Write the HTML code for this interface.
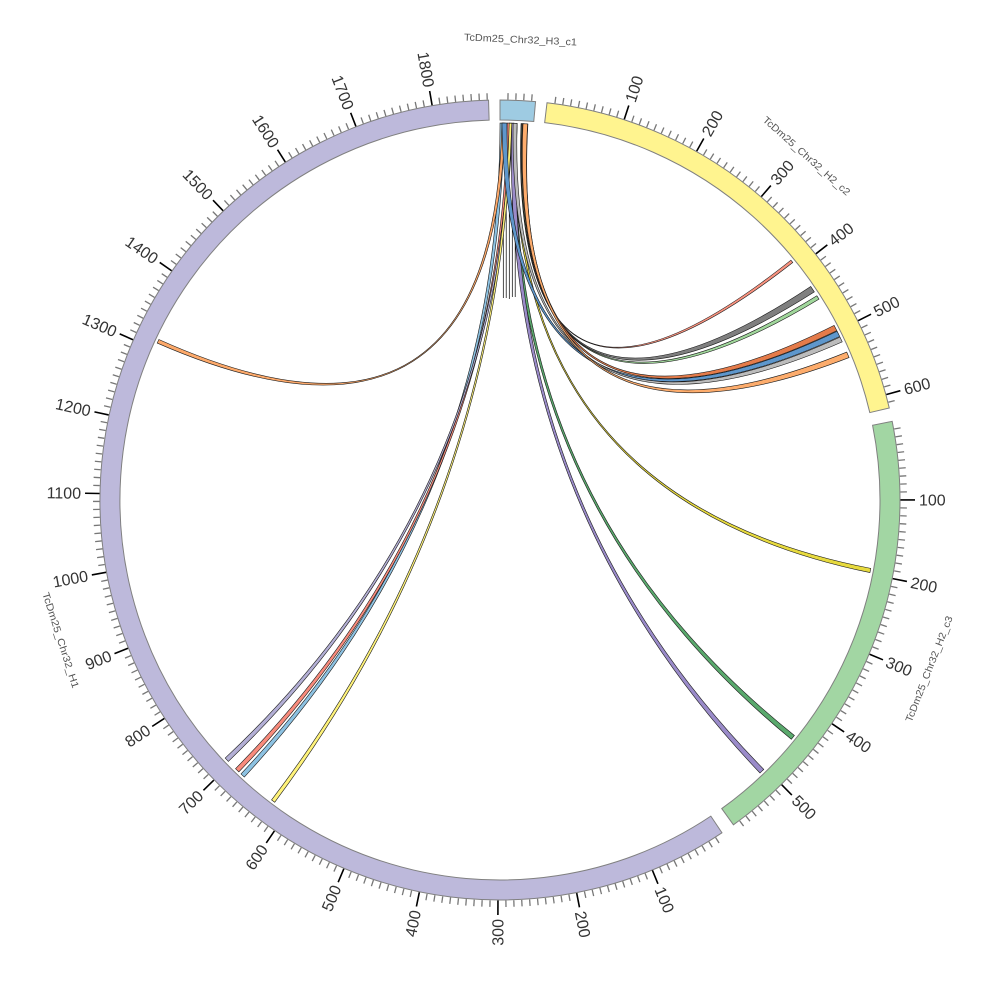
<!DOCTYPE html>
<html><head><meta charset="utf-8">
<style>
html,body{margin:0;padding:0;background:#fff;}
svg{display:block;}
text{font-family:"Liberation Sans",sans-serif;}
</style></head>
<body>
<svg id="g" width="1000" height="1000" viewBox="0 0 1000 1000" xmlns="http://www.w3.org/2000/svg">
<rect width="1000" height="1000" fill="#fff"/>
<g stroke="#000" stroke-width="0.7">
<line x1="503.3" y1="200" x2="503.3" y2="298"/>
<line x1="506.2" y1="200" x2="506.2" y2="298"/>
<line x1="509.3" y1="200" x2="509.3" y2="299"/>
<line x1="512.3" y1="200" x2="512.3" y2="297"/>
<line x1="515.2" y1="200" x2="515.2" y2="297"/>
</g>
<g id="ribs"></g>
<g id="ring"></g>
<g id="ticks"></g>
<g font-size="16" fill="#333">
<text x="919" y="500" dy="0.35em" transform="rotate(67.63 500 500)">100</text>
<text x="919" y="500" dy="0.35em" transform="rotate(78.96 500 500)">200</text>
<text x="81" y="500" dy="0.35em" text-anchor="end" transform="rotate(-89.71 500 500)">300</text>
<text x="81" y="500" dy="0.35em" text-anchor="end" transform="rotate(-78.38 500 500)">400</text>
<text x="81" y="500" dy="0.35em" text-anchor="end" transform="rotate(-67.05 500 500)">500</text>
<text x="81" y="500" dy="0.35em" text-anchor="end" transform="rotate(-55.72 500 500)">600</text>
<text x="81" y="500" dy="0.35em" text-anchor="end" transform="rotate(-44.39 500 500)">700</text>
<text x="81" y="500" dy="0.35em" text-anchor="end" transform="rotate(-33.06 500 500)">800</text>
<text x="81" y="500" dy="0.35em" text-anchor="end" transform="rotate(-21.73 500 500)">900</text>
<text x="81" y="500" dy="0.35em" text-anchor="end" transform="rotate(-10.40 500 500)">1000</text>
<text x="81" y="500" dy="0.35em" text-anchor="end" transform="rotate(0.93 500 500)">1100</text>
<text x="81" y="500" dy="0.35em" text-anchor="end" transform="rotate(12.26 500 500)">1200</text>
<text x="81" y="500" dy="0.35em" text-anchor="end" transform="rotate(23.59 500 500)">1300</text>
<text x="81" y="500" dy="0.35em" text-anchor="end" transform="rotate(34.92 500 500)">1400</text>
<text x="81" y="500" dy="0.35em" text-anchor="end" transform="rotate(46.25 500 500)">1500</text>
<text x="81" y="500" dy="0.35em" text-anchor="end" transform="rotate(57.58 500 500)">1600</text>
<text x="81" y="500" dy="0.35em" text-anchor="end" transform="rotate(68.91 500 500)">1700</text>
<text x="81" y="500" dy="0.35em" text-anchor="end" transform="rotate(80.24 500 500)">1800</text>
<text x="919" y="500" dy="0.35em" transform="rotate(-71.92 500 500)">100</text>
<text x="919" y="500" dy="0.35em" transform="rotate(-60.59 500 500)">200</text>
<text x="919" y="500" dy="0.35em" transform="rotate(-49.26 500 500)">300</text>
<text x="919" y="500" dy="0.35em" transform="rotate(-37.93 500 500)">400</text>
<text x="919" y="500" dy="0.35em" transform="rotate(-26.60 500 500)">500</text>
<text x="919" y="500" dy="0.35em" transform="rotate(-15.27 500 500)">600</text>
<text x="919" y="500" dy="0.35em" transform="rotate(-0.01 500 500)">100</text>
<text x="919" y="500" dy="0.35em" transform="rotate(11.32 500 500)">200</text>
<text x="919" y="500" dy="0.35em" transform="rotate(22.65 500 500)">300</text>
<text x="919" y="500" dy="0.35em" transform="rotate(33.98 500 500)">400</text>
<text x="919" y="500" dy="0.35em" transform="rotate(45.31 500 500)">500</text>
</g>
<g font-size="10" fill="#555">
<text x="500" y="39" dy="0.35em" text-anchor="middle" transform="rotate(2.55 500 500)" textLength="113" lengthAdjust="spacingAndGlyphs">TcDm25_Chr32_H3_c1</text>
<text x="500" y="39" dy="0.35em" text-anchor="middle" transform="rotate(41.7 500 500)" textLength="113" lengthAdjust="spacingAndGlyphs">TcDm25_Chr32_H2_c2</text>
<text x="500" y="961" dy="0.35em" text-anchor="middle" transform="rotate(-68.5 500 500)" textLength="113" lengthAdjust="spacingAndGlyphs">TcDm25_Chr32_H2_c3</text>
<text x="500" y="961" dy="0.35em" text-anchor="middle" transform="rotate(72.3 500 500)" textLength="100" lengthAdjust="spacingAndGlyphs">TcDm25_Chr32_H1</text>
</g>
</svg>
<script>
(function(){
var NS="http://www.w3.org/2000/svg",C=500,S=0.1133;
function P(r,a){var t=a*Math.PI/180;return [C+r*Math.sin(t),C-r*Math.cos(t)];}
function f(p){return p[0].toFixed(2)+" "+p[1].toFixed(2);}
function add(parent,tag,attrs){var e=document.createElementNS(NS,tag);for(var k in attrs)e.setAttribute(k,attrs[k]);document.getElementById(parent).appendChild(e);return e;}
var segs=[
 {a0:146.3,a1:358.36,fill:"#bdb9db"},
 {a0:0,a1:5.1,fill:"#9ecbe2"},
 {a0:6.75,a1:76.7,fill:"#fff48f"},
 {a0:78.66,a1:144.3,fill:"#a2d6a3"}
];
segs.forEach(function(s){
 var lg=(s.a1-s.a0>180)?1:0;
 var d="M"+f(P(400,s.a0))+" A400 400 0 "+lg+" 1 "+f(P(400,s.a1))+" L"+f(P(380,s.a1))+" A380 380 0 "+lg+" 0 "+f(P(380,s.a0))+" Z";
 add("ring","path",{d:d,fill:s.fill,stroke:"#808080","stroke-width":"1"});
 for(var v=10;s.a0+v*S<=s.a1+1e-6;v+=10){
  var a=s.a0+v*S,maj=(v%100===0)&&s.a1-s.a0>10;
  var p1=P(400.5,a),p2=P(maj?415:407,a);
  add("ticks","line",{x1:p1[0].toFixed(2),y1:p1[1].toFixed(2),x2:p2[0].toFixed(2),y2:p2[1].toFixed(2),stroke:maj?"#000":"#777","stroke-width":maj?"1.6":"1.3"});
 }
});
var R=377;
function ctrl(a,b){
 var span=b-a; if(span<0)span+=360; if(span>180){span=360-span;}
 var mid;
 var d1=b-a; if(d1<0)d1+=360;
 if(d1<=180){mid=a+d1/2;} else {mid=a-(360-d1)/2;}
 var d=15*Math.max(0,Math.min(1,(120-span)/70));
 return P(d,mid);
}
function rib(s1,s2,e1,e2,col){
 var c1=ctrl((s1+s2)/2,(e1+e2)/2);
 var d="M"+f(P(R,s1))+" A"+R+" "+R+" 0 0 1 "+f(P(R,s2))+" Q"+f(c1)+" "+f(P(R,e1))+" A"+R+" "+R+" 0 0 1 "+f(P(R,e2))+" Q"+f(c1)+" "+f(P(R,s1))+" Z";
 add("ribs","path",{d:d,fill:col,stroke:"#1a1a1a","stroke-width":"0.6"});
}
rib(0.0,0.6,222.7,223.4,"#8dc2e2");
rib(1.1,1.5,223.85,224.55,"#f88b7c");
rib(1.5,1.9,226.1,226.8,"#b3afd5");
rib(1.4,1.8,216.7,217.3,"#fff37a");
rib(0.3,0.8,294.6,295.2,"#fda96a");
rib(2.2,2.6,100.45,101.1,"#e7da3e");
rib(2.0,2.6,128.65,129.4,"#5aa96d");
rib(1.8,2.6,135.6,136.4,"#9a8bc9");
rib(0.3,1.05,63.4,64.3,"#5e97cc");
rib(2.0,2.6,64.4,65.2,"#bcbcbc");
rib(3.2,3.7,55.5,56.5,"#7f7f7f");
rib(3.3,3.6,57.2,57.8,"#a0d79b");
rib(3.6,3.9,50.5,50.95,"#f9927f");
rib(3.4,4.25,62.4,63.3,"#e47b4a");
rib(3.5,4.2,66.9,67.8,"#fdac6c");
})();
</script>
</body></html>
